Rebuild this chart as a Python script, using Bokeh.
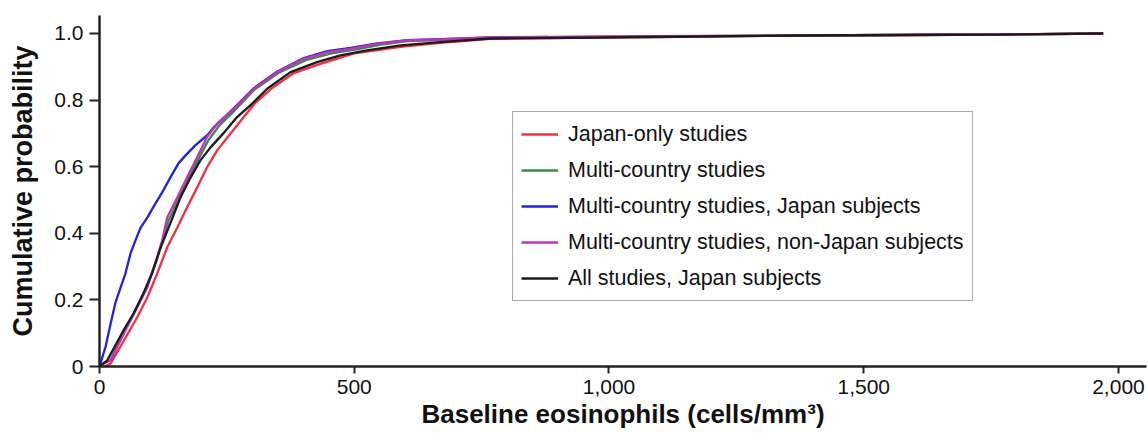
from bokeh.plotting import figure
from bokeh.models import Legend, LegendItem, FixedTicker
from bokeh.embed import file_html
from bokeh.resources import INLINE

# ---- data ----
series_names = [
    "Japan-only studies",
    "Multi-country studies",
    "Multi-country studies, Japan subjects",
    "Multi-country studies, non-Japan subjects",
    "All studies, Japan subjects",
]

japan_only_x = [10, 22, 48, 74, 94, 113, 133, 153, 172, 192, 211, 231, 257, 283, 305, 338, 380, 432, 500, 591, 669, 767, 983, 1180, 1376, 1768, 1970]
japan_only_y = [0.0, 0.009, 0.078, 0.148, 0.208, 0.278, 0.358, 0.418, 0.478, 0.538, 0.598, 0.649, 0.699, 0.749, 0.790, 0.835, 0.880, 0.908, 0.940, 0.960, 0.972, 0.984, 0.988, 0.991, 0.994, 0.997, 1.0]

multi_x = [0, 8, 22, 47, 72, 90, 110, 122, 136, 156, 175, 195, 214, 236, 266, 303, 352, 405, 455, 505, 550, 604, 669, 767, 983, 1376, 1768, 1970]
multi_y = [0.0, 0.01, 0.02, 0.104, 0.172, 0.23, 0.31, 0.37, 0.44, 0.505, 0.566, 0.625, 0.68, 0.725, 0.77, 0.83, 0.882, 0.92, 0.94, 0.952, 0.966, 0.977, 0.98, 0.987, 0.99, 0.994, 0.997, 1.0]

mc_japan_x = [0, 4, 12, 22, 31, 42, 51, 61, 71, 80, 94, 110, 123, 139, 155, 169, 188, 211, 224, 264, 303, 349, 401, 447, 493, 545, 604, 669, 767, 880]
mc_japan_y = [0.0, 0.02, 0.06, 0.13, 0.19, 0.24, 0.28, 0.34, 0.38, 0.415, 0.448, 0.49, 0.523, 0.567, 0.61, 0.634, 0.664, 0.694, 0.718, 0.776, 0.836, 0.886, 0.926, 0.947, 0.957, 0.97, 0.98, 0.983, 0.988, 0.99]

mc_nonjapan_x = [0, 8, 22, 48, 74, 94, 113, 123, 133, 153, 172, 192, 211, 231, 264, 303, 349, 401, 447, 493, 545, 604, 669, 767, 983, 1376, 1768, 1970]
mc_nonjapan_y = [0.0, 0.009, 0.018, 0.099, 0.178, 0.238, 0.328, 0.378, 0.448, 0.508, 0.568, 0.629, 0.689, 0.729, 0.774, 0.834, 0.884, 0.924, 0.944, 0.954, 0.969, 0.979, 0.982, 0.988, 0.991, 0.994, 0.997, 1.0]

all_japan_x = [0, 15, 47, 67, 86, 103, 120, 139, 159, 179, 198, 218, 243, 270, 296, 329, 375, 427, 473, 525, 591, 669, 767, 983, 1180, 1376, 1768, 1970]
all_japan_y = [0.0, 0.018, 0.108, 0.16, 0.219, 0.279, 0.357, 0.43, 0.508, 0.568, 0.619, 0.658, 0.70, 0.749, 0.784, 0.834, 0.884, 0.914, 0.934, 0.949, 0.964, 0.974, 0.985, 0.988, 0.991, 0.994, 0.997, 1.0]

x_ticks = [0, 500, 1000, 1500, 2000]
x_tick_labels = ["0", "500", "1,000", "1,500", "2,000"]
y_ticks = [0, 0.2, 0.4, 0.6, 0.8, 1.0]
y_tick_labels = ["0", "0.2", "0.4", "0.6", "0.8", "1.0"]

line_colors = ["#f0303f", "#3d8a50", "#2222dd", "#c233b8", "#1c1c1c"]

FONT = "Liberation Sans"

p = figure(width=1148, height=436, output_backend="svg", toolbar_location=None,
           x_range=(0, 2055), y_range=(0, 1.054),
           min_border_left=99, min_border_right=2, min_border_top=15, min_border_bottom=70)
p.outline_line_color = None
p.xgrid.grid_line_color = None
p.ygrid.grid_line_color = None
p.background_fill_color = "white"

series = [
    (japan_only_x, japan_only_y),
    (multi_x, multi_y),
    (mc_japan_x, mc_japan_y),
    (mc_nonjapan_x, mc_nonjapan_y),
    (all_japan_x, all_japan_y),
]
draw_order = [1, 0, 2, 3, 4]
renderers = {}
for idx in draw_order:
    xs, ys = series[idx]
    renderers[idx] = p.line(xs, ys, line_color=line_colors[idx], line_width=2.3)

items = [LegendItem(label=name, renderers=[renderers[i]]) for i, name in enumerate(series_names)]

legend = Legend(items=items, location=(413, 65))
legend.label_text_font = FONT
legend.label_text_font_size = "21.5px"
legend.label_text_color = "#111111"
legend.label_height = 28
legend.glyph_height = 28
legend.glyph_width = 37
legend.label_standoff = 10
legend.spacing = 8
legend.padding = 8
legend.margin = 0
legend.border_line_color = "#555555"
legend.border_line_width = 1.5
legend.background_fill_alpha = 1.0
p.add_layout(legend, "center")

for ax in (p.xaxis, p.yaxis):
    ax.axis_line_color = "#222222"
    ax.axis_line_width = 2.5
    ax.major_tick_line_color = "#222222"
    ax.major_tick_line_width = 2
    ax.minor_tick_line_color = None
    ax.major_tick_in = 0
    ax.major_label_text_font = FONT
    ax.major_label_text_font_size = "21px"
    ax.major_label_text_color = "#111111"
    ax.axis_label_text_font = FONT
    ax.axis_label_text_font_style = "bold"
    ax.axis_label_text_color = "#111111"

p.xaxis.ticker = FixedTicker(ticks=x_ticks)
p.xaxis.major_label_overrides = {t: l for t, l in zip(x_ticks, x_tick_labels)}
p.yaxis.ticker = FixedTicker(ticks=y_ticks)
p.yaxis.major_label_overrides = {t: l for t, l in zip(y_ticks, y_tick_labels)}

p.xaxis.major_tick_out = 7
p.yaxis.major_tick_out = 10
p.xaxis.major_label_standoff = 6
p.yaxis.major_label_standoff = 6

p.xaxis.axis_label = "Baseline eosinophils (cells/mm³)"
p.yaxis.axis_label = "Cumulative probability"
p.xaxis.axis_label_text_font_size = "26px"
p.yaxis.axis_label_text_font_size = "27px"
p.xaxis.axis_label_standoff = 2
p.yaxis.axis_label_standoff = 13

open("out.html", "w").write(file_html(p, INLINE))
